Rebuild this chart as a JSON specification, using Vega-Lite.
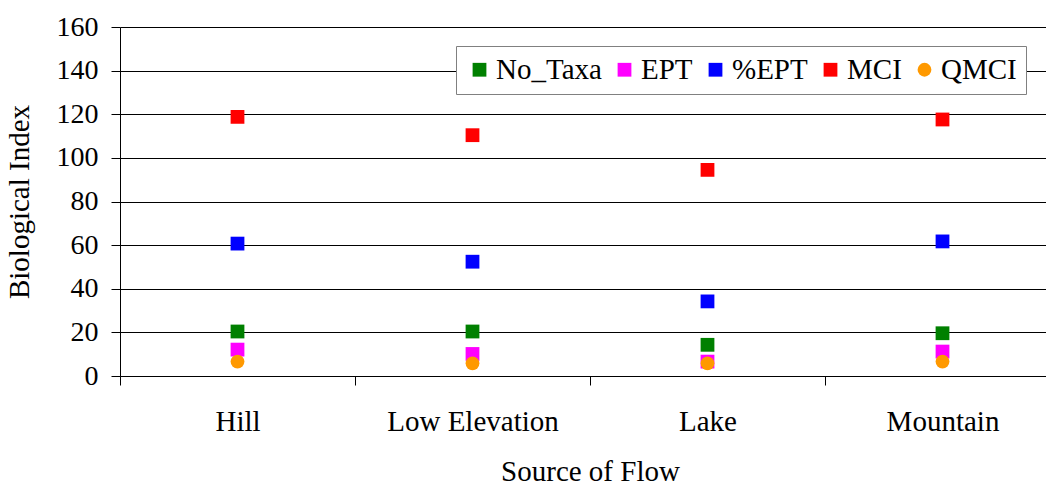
{
  "$schema": "https://vega.github.io/schema/vega-lite/v6.json",
  "width": 940,
  "height": 349,
  "autosize": {"type": "none"},
  "padding": {"left": 120, "top": 27, "right": 0, "bottom": 109},
  "background": "white",
  "config": {
    "font": "Liberation Serif",
    "view": {"stroke": null},
    "axis": {"labelColor": "black", "titleColor": "black", "titleFontWeight": "normal"}
  },
  "data": {
    "values": [
      {"source": "Hill", "series": "No_Taxa", "value": 20.4},
      {"source": "Low Elevation", "series": "No_Taxa", "value": 20.4},
      {"source": "Lake", "series": "No_Taxa", "value": 14.3},
      {"source": "Mountain", "series": "No_Taxa", "value": 19.6},
      {"source": "Hill", "series": "EPT", "value": 12.1},
      {"source": "Low Elevation", "series": "EPT", "value": 10.1},
      {"source": "Lake", "series": "EPT", "value": 6.6},
      {"source": "Mountain", "series": "EPT", "value": 11.2},
      {"source": "Hill", "series": "%EPT", "value": 60.7},
      {"source": "Low Elevation", "series": "%EPT", "value": 52.4},
      {"source": "Lake", "series": "%EPT", "value": 34.2},
      {"source": "Mountain", "series": "%EPT", "value": 61.7},
      {"source": "Hill", "series": "MCI", "value": 118.8},
      {"source": "Low Elevation", "series": "MCI", "value": 110.4},
      {"source": "Lake", "series": "MCI", "value": 94.5},
      {"source": "Mountain", "series": "MCI", "value": 117.6},
      {"source": "Hill", "series": "QMCI", "value": 6.6},
      {"source": "Low Elevation", "series": "QMCI", "value": 5.8},
      {"source": "Lake", "series": "QMCI", "value": 5.8},
      {"source": "Mountain", "series": "QMCI", "value": 6.6}
    ]
  },
  "mark": {"type": "point", "filled": true, "opacity": 1},
  "encoding": {
    "x": {
      "field": "source",
      "type": "nominal",
      "sort": ["Hill", "Low Elevation", "Lake", "Mountain"],
      "scale": {"paddingInner": 0, "paddingOuter": 0},
      "axis": {
        "title": "Source of Flow",
        "labelAngle": 0,
        "tickBand": "extent",
        "tickSize": 9,
        "tickColor": "black",
        "domainColor": "black",
        "labelFontSize": 29,
        "labelPadding": 22,
        "titleFontSize": 29,
        "titlePadding": 21,
        "grid": false
      }
    },
    "y": {
      "field": "value",
      "type": "quantitative",
      "scale": {"domain": [0, 160], "nice": false},
      "axis": {
        "title": "Biological Index",
        "values": [0, 20, 40, 60, 80, 100, 120, 140, 160],
        "grid": true,
        "gridColor": "black",
        "gridOpacity": 1,
        "tickSize": 9,
        "tickColor": "black",
        "domainColor": "black",
        "labelFontSize": 28,
        "labelPadding": 13,
        "titleFontSize": 29,
        "titlePadding": 22
      }
    },
    "color": {
      "field": "series",
      "type": "nominal",
      "scale": {
        "domain": ["No_Taxa", "EPT", "%EPT", "MCI", "QMCI"],
        "range": ["#008000", "#FF00FF", "#0000FF", "#FF0000", "#FF9900"]
      },
      "legend": {
        "title": null,
        "orient": "none",
        "direction": "horizontal",
        "legendX": 336,
        "legendY": 19,
        "fillColor": "white",
        "strokeColor": "#808080",
        "padding": 9,
        "columnPadding": 8,
        "labelOffset": 2,
        "labelFontSize": 29,
        "labelColor": "black",
        "symbolSize": 130,
        "symbolStrokeWidth": 0
      }
    },
    "shape": {
      "field": "series",
      "type": "nominal",
      "scale": {
        "domain": ["No_Taxa", "EPT", "%EPT", "MCI", "QMCI"],
        "range": ["square", "square", "square", "square", "circle"]
      }
    },
    "size": {
      "field": "series",
      "type": "ordinal",
      "scale": {
        "domain": ["No_Taxa", "EPT", "%EPT", "MCI", "QMCI"],
        "range": [190, 190, 190, 190, 140]
      },
      "legend": null
    }
  }
}
